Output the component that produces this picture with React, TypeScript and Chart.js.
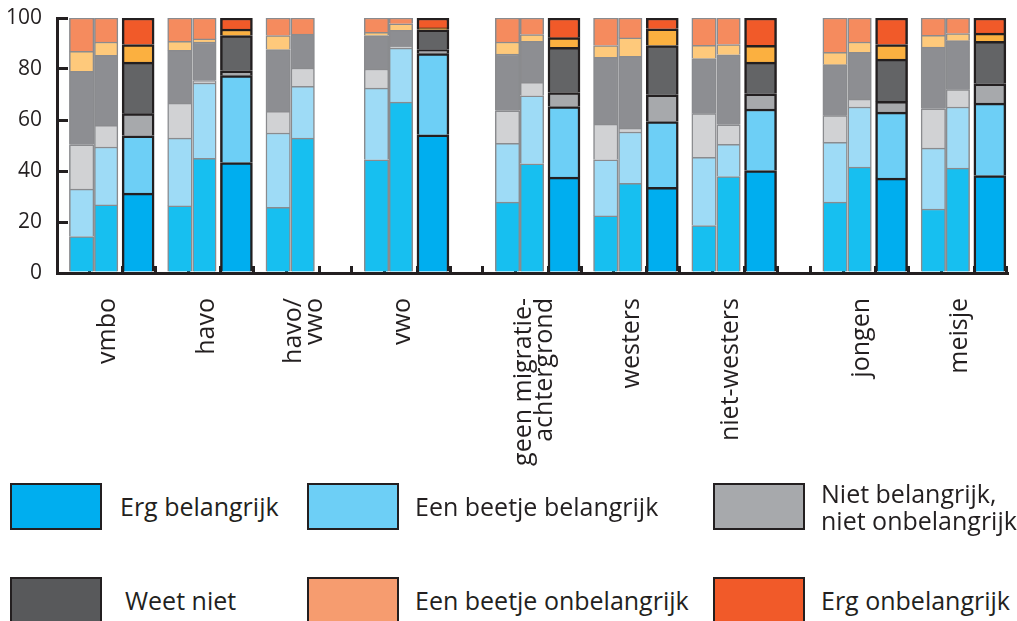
import React, { useEffect, useRef } from 'react';
import { Chart, registerables } from 'chart.js';

Chart.register(...registerables);

const FONT = '"Open Sans", "Noto Sans", sans-serif';
const TEXT = '#231F20';

// ---- categories & ticks ----
const groupLabels = [
  'vmbo',
  'havo',
  'havo/\nvwo',
  'vwo',
  'geen migratie-\nachtergrond',
  'westers',
  'niet-westers',
  'jongen',
  'meisje',
];
const gapAfterGroup = [3, 6]; // empty slot after "vwo" and after "niet-westers"
const yTicks = [0, 20, 40, 60, 80, 100];

// ---- series names (legend) ----
const seriesNames = [
  'Erg belangrijk',
  'Een beetje belangrijk',
  'Niet belangrijk,\nniet onbelangrijk',
  'Weet niet',
  'Een beetje onbelangrijk',
  'Erg onbelangrijk',
];

// ---- values: three bars per group (_1, _2 light; _3 dark) ----
const ergBelangrijk_1 = [14.3, 26.3, 25.8, 44.4, 27.8, 22.4, 18.6, 27.8, 25.1];
const ergBelangrijk_2 = [26.7, 45.0, 52.9, 67.0, 42.8, 35.2, 37.8, 41.5, 41.1];
const ergBelangrijk_3 = [31.3, 43.3, null, 54.2, 37.6, 33.6, 40.2, 37.2, 38.2];

const beetjeBelangrijk_1 = [18.6, 26.6, 29.1, 28.1, 23.1, 22.0, 26.8, 23.4, 23.9];
const beetjeBelangrijk_2 = [22.7, 29.5, 20.3, 21.2, 26.7, 20.1, 12.7, 23.6, 24.0];
const beetjeBelangrijk_3 = [22.5, 34.1, null, 31.8, 27.7, 25.8, 24.1, 25.9, 28.4];

const nietNiet_1 = [17.4, 13.7, 8.5, 7.5, 12.7, 14.0, 17.1, 10.5, 15.4];
const nietNiet_2 = [8.5, 0.9, 7.2, 0.7, 5.3, 1.5, 7.6, 3.1, 6.8];
const nietNiet_3 = [8.7, 1.9, null, 1.6, 5.5, 10.5, 6.0, 4.2, 7.6];

const weetNiet_1 = [28.8, 20.7, 24.2, 13.1, 22.3, 26.2, 21.6, 20.0, 24.2];
const weetNiet_2 = [27.5, 15.2, 13.3, 6.3, 16.1, 28.2, 27.5, 18.3, 19.2];
const weetNiet_3 = [20.2, 13.8, null, 7.8, 17.7, 19.3, 12.4, 16.6, 16.7];

const beetjeOnbelangrijk_1 = [7.8, 3.6, 5.5, 1.3, 4.7, 4.6, 5.2, 4.8, 4.6];
const beetjeOnbelangrijk_2 = [5.2, 1.2, 0, 2.5, 2.6, 7.2, 4.0, 4.1, 2.8];
const beetjeOnbelangrijk_3 = [6.9, 2.6, null, 0.7, 3.8, 6.6, 6.6, 5.7, 3.2];

const ergOnbelangrijk_1 = [13.1, 9.1, 6.9, 5.6, 9.4, 10.8, 10.7, 13.5, 6.8];
const ergOnbelangrijk_2 = [9.4, 8.2, 6.3, 2.3, 6.5, 7.8, 10.4, 9.4, 6.1];
const ergOnbelangrijk_3 = [10.4, 4.3, null, 3.9, 7.7, 4.2, 10.7, 10.4, 5.9];

// ---- colours ----
const lightColors = ['#17BFF0', '#9EDBF6', '#D1D2D4', '#8D8E92', '#FEC97B', '#F58B5E'];
const darkColors = ['#00AEEF', '#6DCFF6', '#A7A9AC', '#636466', '#FBB040', '#F15A29'];
const legendColors = ['#00AEEF', '#6DCFF6', '#A7A9AC', '#58595B', '#F69C6F', '#F15A29'];

// ---- build slot layout (3 slots per group + gap slots) ----
const slotLabels: string[] = [];
const slotGroup: (number | null)[] = [];
groupLabels.forEach((lab, g) => {
  slotLabels.push('', lab, '');
  slotGroup.push(null, g, null);
  if (gapAfterGroup.includes(g)) {
    slotLabels.push('');
    slotGroup.push(null);
  }
});

const waves = [
  [ergBelangrijk_1, beetjeBelangrijk_1, nietNiet_1, weetNiet_1, beetjeOnbelangrijk_1, ergOnbelangrijk_1],
  [ergBelangrijk_2, beetjeBelangrijk_2, nietNiet_2, weetNiet_2, beetjeOnbelangrijk_2, ergOnbelangrijk_2],
  [ergBelangrijk_3, beetjeBelangrijk_3, nietNiet_3, weetNiet_3, beetjeOnbelangrijk_3, ergOnbelangrijk_3],
];

const xLabelPlugin = {
  id: 'groupLabels',
  afterDraw(chart: any) {
    const xs = chart.scales.x;
    const ctx = chart.ctx;
    ctx.save();
    ctx.font = `25px ${FONT}`;
    ctx.fillStyle = TEXT;
    ctx.textAlign = 'right';
    ctx.textBaseline = 'middle';
    const lh = 21;
    slotLabels.forEach((lab, i) => {
      if (!lab) return;
      const lines = lab.split('\n');
      const cx = xs.getPixelForValue(i);
      lines.forEach((line, j) => {
        const dx = (j - (lines.length - 1) / 2) * lh;
        ctx.save();
        ctx.translate(cx + dx + 2, xs.top + 25);
        ctx.rotate(-Math.PI / 2);
        ctx.fillText(line, 0, 0);
        ctx.restore();
      });
    });
    ctx.restore();
  },
};

export default function App() {
  const canvasRef = useRef<HTMLCanvasElement | null>(null);

  useEffect(() => {
    const canvas = canvasRef.current;
    if (!canvas) return;
    const datasets: any[] = [];
    waves.forEach((segs, w) => {
      const dark = w === 2;
      segs.forEach((arr, s) => {
        datasets.push({
          label: seriesNames[s],
          stack: 'w' + w,
          data: slotGroup.map((g) => (g === null ? null : arr[g])),
          backgroundColor: dark ? darkColors[s] : lightColors[s],
          borderColor: dark ? TEXT : '#8A8B8E',
          borderWidth: dark ? 2.5 : 1.5,
          barThickness: dark ? 32 : w === 0 ? 24.5 : 23.5,
        });
      });
    });

    const chart = new Chart(canvas, {
      type: 'bar',
      data: { labels: slotLabels, datasets },
      plugins: [xLabelPlugin],
      options: {
        responsive: false,
        animation: false,
        layout: { padding: { top: 18, right: 10, left: 0, bottom: 0 } },
        plugins: {
          legend: { display: false },
          tooltip: { enabled: false },
          title: { display: false },
        },
        scales: {
          x: {
            stacked: true,
            grid: {
              offset: true,
              drawOnChartArea: false,
              drawTicks: true,
              tickLength: -7,
              color: TEXT,
              lineWidth: 3,
            },
            border: { display: true, color: TEXT, width: 3 },
            ticks: { display: false, autoSkip: false },
            afterFit(scale: any) {
              scale.height = 207;
              scale.paddingLeft = 0;
              scale.paddingRight = 0;
            },
          },
          y: {
            stacked: true,
            min: 0,
            max: 100,
            afterBuildTicks(scale: any) {
              scale.ticks = yTicks.map((v) => ({ value: v }));
            },
            ticks: {
              color: TEXT,
              font: { family: FONT, size: 21 },
              padding: 26,
            },
            grid: {
              drawOnChartArea: false,
              drawTicks: true,
              tickLength: -11,
              color: TEXT,
              lineWidth: 3,
            },
            border: { display: true, color: TEXT, width: 3 },
            afterFit(scale: any) {
              scale.width = 57;
              scale.paddingTop = 0;
              scale.paddingBottom = 0;
            },
          },
        },
      },
    });
    return () => chart.destroy();
  }, []);

  const colX = [10, 307, 713];
  const rowY = [483, 577];

  return (
    <div
      style={{
        position: 'absolute',
        left: 0,
        top: 0,
        width: 1017,
        height: 621,
        background: '#ffffff',
        overflow: 'hidden',
        fontFamily: FONT,
        color: TEXT,
      }}
    >
      <canvas
        ref={canvasRef}
        width={1017}
        height={480}
        style={{ position: 'absolute', left: 0, top: 0, width: 1017, height: 480, display: 'block' }}
      />
      {seriesNames.map((name, i) => (
        <div
          key={name}
          style={{
            position: 'absolute',
            left: colX[i % 3],
            top: rowY[Math.floor(i / 3)],
            height: 47,
            display: 'flex',
            alignItems: 'center',
          }}
        >
          <div
            style={{
              width: 92,
              height: 47,
              boxSizing: 'border-box',
              border: `2px solid ${TEXT}`,
              background: legendColors[i],
              flex: '0 0 auto',
            }}
          />
          <div
            style={{
              marginLeft: i === 3 ? 23 : i % 3 === 0 ? 18 : 16,
              fontSize: 25,
              lineHeight: '27px',
              whiteSpace: 'pre-line',
            }}
          >
            {name}
          </div>
        </div>
      ))}
    </div>
  );
}
